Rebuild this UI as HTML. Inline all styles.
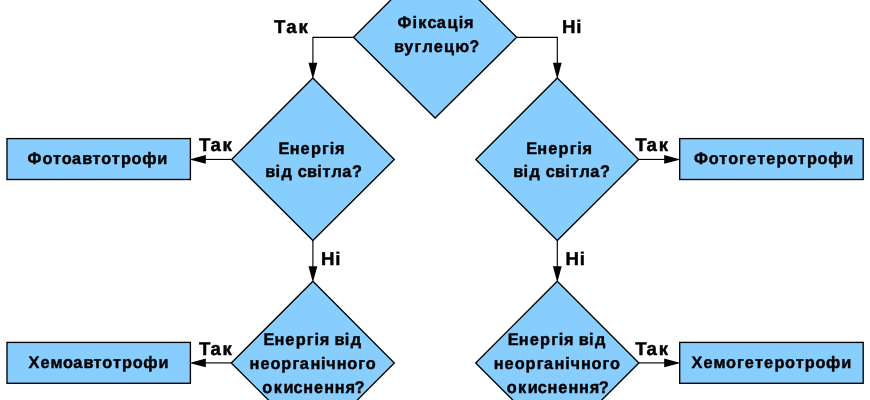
<!DOCTYPE html>
<html lang="uk">
<head>
<meta charset="utf-8">
<title>Flowchart</title>
<style>
  html, body { margin: 0; padding: 0; background: #ffffff; }
  body { width: 870px; height: 400px; overflow: hidden; }
  svg { display: block; will-change: transform; }
  .shape { fill: #87cefe; stroke: #000000; stroke-width: 1.35; stroke-linejoin: miter; }
  .line { fill: none; stroke: #000000; stroke-width: 1.15; }
  .head { fill: #000000; stroke: none; }
  text { font-family: "Liberation Sans", sans-serif; font-weight: bold; font-size: 64px; fill: #000000; stroke: #000000; stroke-width: 1.60px; stroke-linejoin: round; text-rendering: geometricPrecision; white-space: pre; }
</style>
</head>
<body>
<svg width="870" height="400" viewBox="0 0 870 400">
  <rect x="0" y="0" width="870" height="400" fill="#ffffff"/>

  <!-- connectors -->
  <path class="line" d="M353.5 37.3 H312.9 V66"/>
  <path class="line" d="M516.7 37.3 H557.3 V66"/>
  <path class="line" d="M231.6 159.45 H203"/>
  <path class="line" d="M638.6 159.45 H667"/>
  <path class="line" d="M312.9 240 V269"/>
  <path class="line" d="M557.3 240 V269"/>
  <path class="line" d="M231.3 362.9 H203"/>
  <path class="line" d="M638.9 362.9 H667"/>

  <!-- arrow heads (tips tucked under the shapes drawn afterwards) -->
  <path class="head" d="M312.9 79.2 L308.5 62.7 L317.3 62.7 Z"/>
  <path class="head" d="M557.3 79.2 L552.9 62.7 L561.7 62.7 Z"/>
  <path class="head" d="M189.4 159.45 L205.8 155.05 L205.8 163.85 Z"/>
  <path class="head" d="M680.6 159.45 L664.2 155.05 L664.2 163.85 Z"/>
  <path class="head" d="M312.9 282.4 L308.5 266.2 L317.3 266.2 Z"/>
  <path class="head" d="M557.3 282.4 L552.9 266.2 L561.7 266.2 Z"/>
  <path class="head" d="M189.4 362.9 L205.8 358.5 L205.8 367.3 Z"/>
  <path class="head" d="M680.6 362.9 L664.2 358.5 L664.2 367.3 Z"/>

  <!-- decision diamonds -->
  <path class="shape" d="M435.1 -44.3 L516.7 37.3 L435.1 118.1 L353.5 37.3 Z"/>
  <path class="shape" d="M312.9 78 L394.3 159.4 L312.9 240.6 L231.6 159.4 Z"/>
  <path class="shape" d="M557.3 78 L638.6 159.4 L557.3 240.6 L475.8 159.4 Z"/>
  <path class="shape" d="M312.9 281.3 L394.3 362.9 L312.9 444.5 L231.3 362.9 Z"/>
  <path class="shape" d="M557.3 281.3 L638.9 362.9 L557.3 444.5 L475.7 362.9 Z"/>

  <!-- result boxes -->
  <rect class="shape" x="7" y="138.6" width="183.4" height="40.9"/>
  <rect class="shape" x="679.7" y="138.6" width="183.5" height="40.9"/>
  <rect class="shape" x="7" y="342.4" width="183.4" height="40.9"/>
  <rect class="shape" x="679.7" y="342.4" width="183.5" height="40.9"/>

  <!-- labels and box texts (per-glyph x positions in 64px font units, scaled by the matrix) -->
  <text transform="matrix(0.2550 0 0 0.2597 397.49 27.70)" x="0.0 58.5 81.8 117.6 154.1 196.5 240.6 261.3" y="0">Фіксація</text>
  <text transform="matrix(0.2550 0 0 0.2616 394.02 52.18)" x="0.0 40.0 80.8 111.6 155.5 195.8 240.6 295.4" y="0">вуглецю?</text>
  <text transform="matrix(0.2913 0 0 0.2914 274.02 32.77)" x="0.0 42.3 84.4" y="0">Так</text>
  <text transform="matrix(0.2913 0 0 0.2876 562.11 33.04)" x="0.0 48.8" y="0">Ні</text>
  <text transform="matrix(0.2550 0 0 0.2597 278.58 153.55)" x="0.0 43.7 86.1 127.0 170.5 200.5 221.2" y="0">Енергія</text>
  <text transform="matrix(0.2550 0 0 0.2620 265.27 177.26)" x="0.0 39.7 63.3 95.3 127.3 163.7 203.7 224.4 260.1 301.5 340.5" y="0">від світла?</text>
  <text transform="matrix(0.2550 0 0 0.2621 526.20 153.56)" x="0.0 43.7 86.4 127.0 170.8 200.5 221.2" y="0">Енергія</text>
  <text transform="matrix(0.2550 0 0 0.2620 513.27 177.26)" x="0.0 39.7 63.3 95.3 127.3 163.7 203.7 224.4 260.1 301.5 340.5" y="0">від світла?</text>
  <text transform="matrix(0.2550 0 0 0.2585 27.61 163.93)" x="0.0 58.2 100.0 134.2 174.4 214.6 254.4 288.7 330.4 366.1 407.5 449.5 508.8" y="0">Фотоавтотрофи</text>
  <text transform="matrix(0.2550 0 0 0.2588 693.99 163.88)" x="0.0 58.0 99.5 134.0 177.0 207.8 247.6 283.3 323.9 365.6 407.4 443.1 484.5 526.5 585.7" y="0">Фотогетеротрофи</text>
  <text transform="matrix(0.2913 0 0 0.2923 198.94 150.96)" x="0.0 39.3 81.2" y="0">Так</text>
  <text transform="matrix(0.2913 0 0 0.2923 635.19 151.06)" x="0.0 39.1 81.2" y="0">Так</text>
  <text transform="matrix(0.2913 0 0 0.2885 320.99 264.66)" x="0.0 48.8" y="0">Ні</text>
  <text transform="matrix(0.2913 0 0 0.2883 565.49 264.57)" x="0.0 48.8" y="0">Ні</text>
  <text transform="matrix(0.2913 0 0 0.2921 198.94 354.69)" x="0.0 39.3 81.2" y="0">Так</text>
  <text transform="matrix(0.2913 0 0 0.2921 635.19 354.69)" x="0.0 39.1 81.2" y="0">Так</text>
  <text transform="matrix(0.2550 0 0 0.2597 28.46 367.80)" x="0.0 47.1 86.2 135.3 175.6 215.7 255.5 289.8 331.5 367.2 408.7 450.6 509.9" y="0">Хемоавтотрофи</text>
  <text transform="matrix(0.2550 0 0 0.2588 691.46 367.90)" x="0.0 47.1 86.2 135.6 178.6 209.4 249.2 284.9 325.5 367.2 409.0 444.7 486.1 528.1 587.3" y="0">Хемогетеротрофи</text>
  <text transform="matrix(0.2550 0 0 0.2621 263.39 344.76)" x="0.0 43.9 86.1 127.0 170.5 200.8 221.2 250.1 279.0 318.9 342.2" y="0">Енергія від</text>
  <text transform="matrix(0.2550 0 0 0.2589 249.59 368.91)" x="0.0 42.4 81.9 124.5 168.2 196.8 238.7 280.1 300.5 342.2 383.1 426.4 455.9" y="0">неорганічного</text>
  <text transform="matrix(0.2550 0 0 0.2659 262.34 392.75)" x="0.0 44.4 82.6 122.1 160.3 202.7 242.7 284.3 325.8 361.3" y="0">окиснення?</text>
  <text transform="matrix(0.2550 0 0 0.2613 507.70 344.88)" x="0.0 43.7 86.4 127.0 170.8 200.5 221.2 250.0 278.7 318.7 342.5" y="0">Енергія від</text>
  <text transform="matrix(0.2550 0 0 0.2589 493.84 368.91)" x="0.0 42.2 81.9 124.5 168.0 196.6 238.3 279.9 300.5 341.7 383.1 426.1 455.7" y="0">неорганічного</text>
  <text transform="matrix(0.2550 0 0 0.2659 506.65 392.75)" x="0.0 44.1 82.6 122.3 160.1 202.7 242.4 284.1 325.6 361.1" y="0">окиснення?</text>
</svg>
</body>
</html>
